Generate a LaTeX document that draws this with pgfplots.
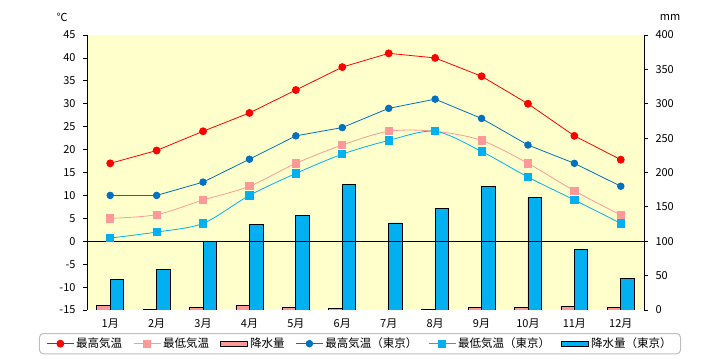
\documentclass[border=0pt]{standalone}
\usepackage{pgfplots}
\pgfplotsset{compat=1.18}
\usepackage{fontspec}
\setmainfont{Noto Sans CJK JP}
\definecolor{bgY}{HTML}{FFFFCC}
\definecolor{cRed}{HTML}{FF0000}
\definecolor{cPink}{HTML}{FF9999}
\definecolor{cBlue}{HTML}{0070C0}
\definecolor{cCyan}{HTML}{00B0F0}
\pgfplotsset{
  mylinelegend/.style={legend image code/.code={
    \draw[sharp corners,mark repeat=2,mark phase=2,##1] plot coordinates {(0bp,0bp) (13.5bp,0bp) (27bp,0bp)};}},
  mybarlegend/.style={legend image code/.code={
    \draw[sharp corners,##1] (0bp,-2.5bp) rectangle (27bp,2.5bp);}},
  common/.style={
    scale only axis, width=557bp, height=275bp,
    at={(87bp,50bp)}, anchor=south west,
    xmin=-0.5, xmax=11.5,
    tick align=outside, major tick length=4bp,
    tick style={black, line width=0.8bp},
    axis line style={black, line width=0.8bp},
    /pgf/number format/assume math mode=true,
    ticklabel style={font=\fontsize{11bp}{13bp}\selectfont},
  }
}
\begin{document}
\begin{tikzpicture}
\useasboundingbox (0,0) rectangle (720bp,360bp);
% bars (precipitation, right axis)
\begin{axis}[common,
  axis background/.style={fill=bgY},
  ymin=0, ymax=400, ytick={0,50,...,400},
  axis y line*=right, axis x line*=bottom,
  x axis line style={draw=none},
  xtick={0,...,11}, xtick style={draw=none},
  xticklabels={1月,2月,3月,4月,5月,6月,7月,8月,9月,10月,11月,12月},
  xticklabel style={yshift=-1bp},
  yticklabel style={xshift=4bp},
  ybar, bar width=13.5bp,
]
\addplot[fill=cPink, draw=black, line width=0.6bp, bar shift=-6.75bp] coordinates {
(0,7) (1,1) (2,4) (3,7) (4,4) (5,2.5) (7,1) (8,4) (9,4) (10,5.5) (11,4)};
\addplot[fill=cCyan, draw=black, line width=0.8bp, bar shift=6.75bp] coordinates {
(0,44.6) (1,59.2) (2,100) (3,125) (4,137.7) (5,183) (6,126.6) (7,147.3) (8,180) (9,164) (10,88) (11,46)};
\end{axis}
% temperature lines (left axis)
\begin{axis}[common,
  ymin=-15, ymax=45, ytick={-15,-10,...,45},
  axis y line*=left, axis x line*=bottom,
  x axis line style={draw=none},
  xtick=\empty,
  yticklabel style={xshift=-4bp},
  legend columns=6,
  legend style={at={(0.5,0)}, anchor=north, yshift=-23bp, xshift=-5.5bp,
    draw=gray!50, line width=1bp, rounded corners=4bp,
    font=\fontsize{11.5bp}{13.5bp}\selectfont, inner ysep=2.5bp, inner xsep=7bp,
    /tikz/every even column/.style={column sep=9bp}},
  legend cell align=left,
]
\addplot[black, line width=0.8bp, forget plot] coordinates {(-0.5,0) (11.5,0)};
\addplot[cRed, line width=0.8bp, mark=*, mark size=3.5bp, mylinelegend] coordinates {
(0,17) (1,19.8) (2,24) (3,28) (4,33) (5,38) (6,41) (7,40) (8,36) (9,30) (10,23) (11,17.8)};
\addlegendentry{最高気温}
\addplot[cPink, line width=0.8bp, smooth, mark=square*, mark size=3.6bp, mylinelegend] coordinates {
(0,5) (1,5.8) (2,9) (3,12) (4,17) (5,21) (6,24) (7,24) (8,22) (9,17) (10,11) (11,5.7)};
\addlegendentry{最低気温}
\addlegendimage{mybarlegend, fill=cPink, draw=black, line width=1bp}
\addlegendentry{降水量}
\addplot[cBlue, line width=0.8bp, mark=*, mark size=3.3bp, mylinelegend] coordinates {
(0,10) (1,10) (2,12.9) (3,17.9) (4,23) (5,24.8) (6,29) (7,31) (8,26.8) (9,21) (10,17) (11,12)};
\addlegendentry{最高気温（東京）}
\addplot[cCyan, line width=0.8bp, smooth, mark=square*, mark size=3.6bp, mylinelegend] coordinates {
(0,0.7) (1,2) (2,3.9) (3,10) (4,14.8) (5,19) (6,22) (7,24) (8,19.6) (9,14) (10,9) (11,3.9)};
\addlegendentry{最低気温（東京）}
\addlegendimage{mybarlegend, fill=cCyan, draw=black, line width=1bp}
\addlegendentry{降水量（東京）}
\end{axis}
\node[font=\fontsize{11bp}{13bp}\selectfont] at (62bp,343bp) {℃};
\node[font=\fontsize{11bp}{13bp}\selectfont] at (670bp,343bp) {mm};
\end{tikzpicture}
\end{document}
